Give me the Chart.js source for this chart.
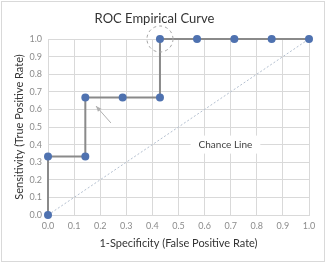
<!DOCTYPE html>
<html>
<head>
<meta charset="utf-8">
<script src="https://cdn.jsdelivr.net/npm/chart.js@4/dist/chart.umd.min.js"></script>
<style>
  html, body { margin: 0; padding: 0; background: #fff; }
  #wrap { width: 328px; height: 270px; }
</style>
</head>
<body>
<div id="wrap"><canvas id="myChart" width="328" height="270"></canvas></div>
<script>
var fpr = [0, 0, 0.143, 0.143, 0.286, 0.429, 0.429, 0.571, 0.714, 0.857, 1];
var tpr = [0, 0.333, 0.333, 0.667, 0.667, 0.667, 1, 1, 1, 1, 1];
var chanceX = [0, 1];
var chanceY = [0, 1];
var chanceLabel = 'Chance Line';
var chanceLabelAt = [0.68, 0.4];
var arrowFrom = [0.241, 0.523];
var arrowTo = [0.184, 0.619];
var circleAt = [0.429, 1];

var fontFam = "Lato, 'Open Sans', sans-serif";

var annotations = {
  id: 'annotations',
  beforeDraw: function (chart) {
    var c = chart.ctx;
    c.save();
    c.fillStyle = '#fff';
    c.fillRect(0, 0, chart.width, chart.height);
    c.strokeStyle = '#d9d9d9';
    c.lineWidth = 1;
    c.strokeRect(1.5, 1.5, 323, 260);
    c.restore();
  },
  afterDatasetsDraw: function (chart) {
    var c = chart.ctx, xs = chart.scales.x, ys = chart.scales.y;
    c.save();
    // chance line label
    var lx = xs.getPixelForValue(chanceLabelAt[0]);
    var ly = ys.getPixelForValue(chanceLabelAt[1]);
    c.font = '10px ' + fontFam;
    var w = c.measureText(chanceLabel).width;
    c.fillStyle = '#fff';
    c.fillRect(lx - w / 2 - 8, ly - 9, w + 16, 18);
    c.fillStyle = '#404040';
    c.textAlign = 'center';
    c.textBaseline = 'middle';
    c.fillText(chanceLabel, lx, ly);
    // arrow
    var ax = xs.getPixelForValue(arrowFrom[0]), ay = ys.getPixelForValue(arrowFrom[1]);
    var bx = xs.getPixelForValue(arrowTo[0]), by = ys.getPixelForValue(arrowTo[1]);
    c.strokeStyle = '#b0b0b0';
    c.fillStyle = '#b0b0b0';
    c.lineWidth = 1;
    c.beginPath(); c.moveTo(ax, ay); c.lineTo(bx, by); c.stroke();
    var ang = Math.atan2(by - ay, bx - ax);
    c.beginPath();
    c.moveTo(bx, by);
    c.lineTo(bx - 6 * Math.cos(ang - 0.4), by - 6 * Math.sin(ang - 0.4));
    c.lineTo(bx - 6 * Math.cos(ang + 0.4), by - 6 * Math.sin(ang + 0.4));
    c.closePath(); c.fill();
    // dashed circle
    c.strokeStyle = '#a6a6a6';
    c.setLineDash([3, 3]);
    c.beginPath();
    c.arc(xs.getPixelForValue(circleAt[0]), ys.getPixelForValue(circleAt[1]), 13, 0, Math.PI * 2);
    c.stroke();
    c.restore();
  }
};

var ctx = document.getElementById('myChart').getContext('2d');
var myChart = new Chart(ctx, {
  type: 'scatter',
  data: {
    datasets: [
      {
        data: chanceX.map(function (x, i) { return { x: x, y: chanceY[i] }; }),
        showLine: true,
        borderColor: '#b4c0d0',
        borderWidth: 1,
        borderDash: [2, 2],
        pointRadius: 0,
        clip: false,
        order: 2
      },
      {
        data: fpr.map(function (x, i) { return { x: x, y: tpr[i] }; }),
        showLine: true,
        borderColor: '#8a8a8a',
        borderWidth: 2,
        pointRadius: 3,
        pointBackgroundColor: '#4f72b0',
        pointBorderColor: '#4f72b0',
        clip: false,
        order: 1
      }
    ]
  },
  plugins: [annotations],
  options: {
    responsive: false,
    animation: false,
    layout: { padding: { left: 0, right: 19, top: 0, bottom: 0 } },
    plugins: {
      legend: { display: false },
      tooltip: { enabled: false },
      title: {
        display: true,
        text: 'ROC Empirical Curve',
        color: '#333',
        font: { family: fontFam, size: 13, weight: 'normal' },
        padding: { top: 11.5, bottom: 11.9 }
      }
    },
    scales: {
      x: {
        type: 'linear', min: 0, max: 1,
        afterFit: function (s) { s.height = 55; },
        grid: { color: '#d9d9d9', drawTicks: false },
        border: { color: '#d9d9d9' },
        ticks: {
          stepSize: 0.1, padding: 6, color: '#8c8c8c',
          font: { family: fontFam, size: 9 },
          callback: function (v) { return v.toFixed(1); }
        },
        title: {
          display: true, text: '1-Specificity (False Positive Rate)', color: '#333',
          font: { family: fontFam, size: 11 }, padding: { top: 4, bottom: 20 }
        }
      },
      y: {
        type: 'linear', min: 0, max: 1,
        afterFit: function (s) { s.width = 48; },
        grid: { color: '#d9d9d9', drawTicks: false },
        border: { color: '#d9d9d9' },
        ticks: {
          stepSize: 0.1, padding: 6, color: '#8c8c8c',
          font: { family: fontFam, size: 9 },
          callback: function (v) { return v.toFixed(1); }
        },
        title: {
          display: true, text: 'Sensitivity (True Positive Rate)', color: '#333',
          font: { family: fontFam, size: 11 }, padding: { top: 13, bottom: 4 }
        }
      }
    }
  }
});
</script>
</body>
</html>
